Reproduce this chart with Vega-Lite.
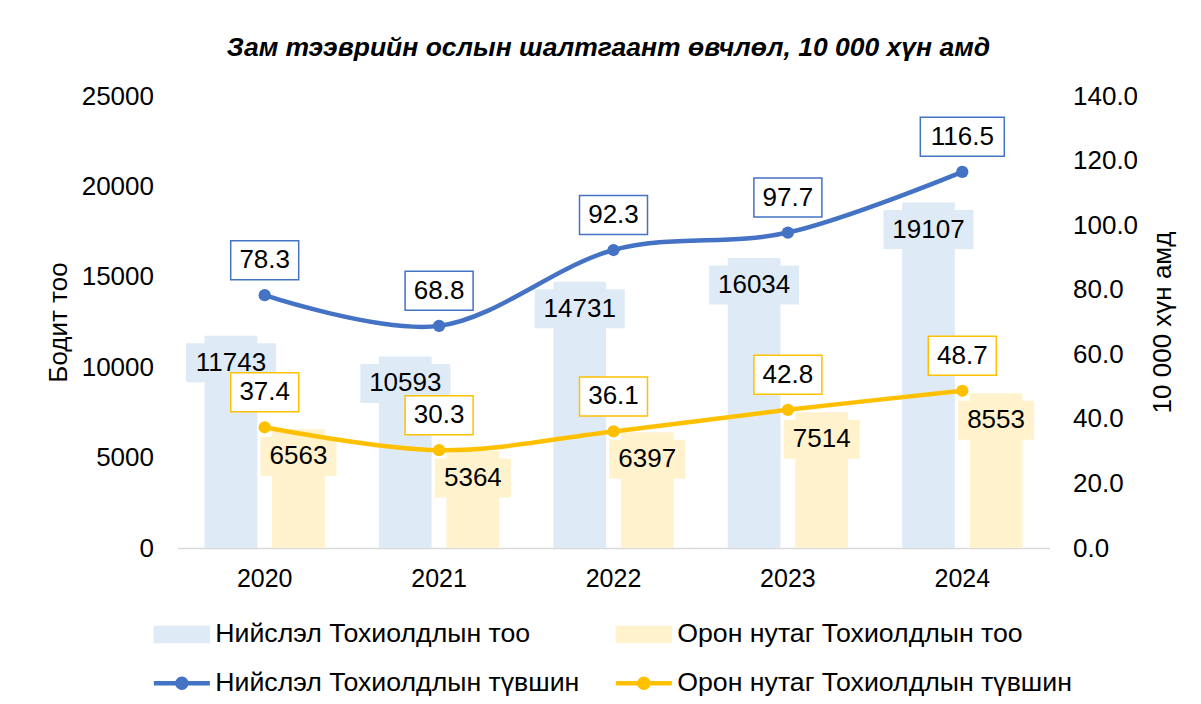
{
  "$schema": "https://vega.github.io/schema/vega-lite/v6.json",
  "width": 872,
  "height": 452,
  "autosize": {"type": "none"},
  "padding": {"left": 177.5, "top": 96, "right": 151.5, "bottom": 156},
  "background": "white",
  "config": {
    "font": "Liberation Sans",
    "view": {"stroke": null},
    "axis": {"labelFont": "Liberation Sans", "labelFontSize": 26, "labelColor": "#000000", "titleFont": "Liberation Sans", "titleFontSize": 26, "titleFontWeight": "normal", "titleColor": "#000000", "grid": false, "ticks": false, "domain": false}
  },
  "title": {"text": "Зам тээврийн ослын шалтгаант өвчлөл, 10 000 хүн амд", "font": "Liberation Sans", "fontSize": 26.5, "fontStyle": "italic", "fontWeight": "bold", "anchor": "middle", "offset": 22, "dx": -5, "color": "#000000"},
  "datasets": {
    "counts": [
      {"year": "2020", "series": "Нийслэл Тохиолдлын тоо", "count": 11743},
      {"year": "2020", "series": "Орон нутаг Тохиолдлын тоо", "count": 6563},
      {"year": "2021", "series": "Нийслэл Тохиолдлын тоо", "count": 10593},
      {"year": "2021", "series": "Орон нутаг Тохиолдлын тоо", "count": 5364},
      {"year": "2022", "series": "Нийслэл Тохиолдлын тоо", "count": 14731},
      {"year": "2022", "series": "Орон нутаг Тохиолдлын тоо", "count": 6397},
      {"year": "2023", "series": "Нийслэл Тохиолдлын тоо", "count": 16034},
      {"year": "2023", "series": "Орон нутаг Тохиолдлын тоо", "count": 7514},
      {"year": "2024", "series": "Нийслэл Тохиолдлын тоо", "count": 19107},
      {"year": "2024", "series": "Орон нутаг Тохиолдлын тоо", "count": 8553}
    ],
    "rates": [
      {"year": "2020", "series": "Нийслэл Тохиолдлын түвшин", "rate": 78.3},
      {"year": "2021", "series": "Нийслэл Тохиолдлын түвшин", "rate": 68.8},
      {"year": "2022", "series": "Нийслэл Тохиолдлын түвшин", "rate": 92.3},
      {"year": "2023", "series": "Нийслэл Тохиолдлын түвшин", "rate": 97.7},
      {"year": "2024", "series": "Нийслэл Тохиолдлын түвшин", "rate": 116.5},
      {"year": "2020", "series": "Орон нутаг Тохиолдлын түвшин", "rate": 37.4},
      {"year": "2021", "series": "Орон нутаг Тохиолдлын түвшин", "rate": 30.3},
      {"year": "2022", "series": "Орон нутаг Тохиолдлын түвшин", "rate": 36.1},
      {"year": "2023", "series": "Орон нутаг Тохиолдлын түвшин", "rate": 42.8},
      {"year": "2024", "series": "Орон нутаг Тохиолдлын түвшин", "rate": 48.7}
    ]
  },
  "encoding": {
    "x": {"field": "year", "type": "ordinal", "scale": {"paddingInner": 0.31, "paddingOuter": 0.155},
      "axis": {"title": null, "labelAngle": 0, "domain": true, "domainColor": "#d9d9d9", "domainWidth": 1.5, "labelPadding": 18, "labelFontSize": 25}}
  },
  "layer": [
    {
      "data": {"name": "counts"},
      "encoding": {
        "y": {"field": "count", "type": "quantitative", "stack": null, "scale": {"domain": [0, 25000]},
          "axis": {"title": "Бодит тоо", "format": "d", "values": [0, 5000, 10000, 15000, 20000, 25000], "labelPadding": 24, "titlePadding": 10}},
        "xOffset": {"field": "series", "type": "nominal", "scale": {"domain": ["Нийслэл Тохиолдлын тоо", "Орон нутаг Тохиолдлын тоо"], "paddingInner": 0.219, "paddingOuter": 0}}
      },
      "layer": [
        {
          "mark": {"type": "bar", "opacity": 1},
          "encoding": {
            "color": {"field": "series", "type": "nominal",
              "scale": {"domain": ["Нийслэл Тохиолдлын тоо", "Орон нутаг Тохиолдлын тоо", "Нийслэл Тохиолдлын түвшин", "Орон нутаг Тохиолдлын түвшин"], "range": ["#deebf7", "#fff2cc", "#4472c4", "#ffc000"]},
              "legend": {"title": null, "orient": "none", "direction": "horizontal", "legendX": -9, "legendY": 525, "columns": 2, "symbolSize": 4,
                "symbolType": {"expr": "indexof(datum.value, 'түвшин') >= 0 ? 'M-28,0H28M-4.5,0A4.5,4.5 0 1 1 4.5,0A4.5,4.5 0 1 1 -4.5,0Z' : 'M-26,-6.5H26V6.5H-26Z'"},
                "symbolStrokeColor": {"expr": "indexof(datum.value, 'түвшин') >= 0 ? scale('color', datum.value) : 'transparent'"},
                "symbolStrokeWidth": 4.5, "symbolOpacity": 1,
                "labelFontSize": 26.7, "labelFont": "Liberation Sans", "labelColor": "#000000", "labelOffset": 20, "columnPadding": 27, "rowPadding": 19, "labelLimit": 0}
            }
          }
        },
        {
          "mark": {"type": "point", "filled": true, "size": 4, "opacity": 1, "strokeWidth": 0},
          "encoding": {
            "fill": {"field": "series", "type": "nominal", "scale": {"domain": ["Нийслэл Тохиолдлын тоо", "Орон нутаг Тохиолдлын тоо"], "range": ["#deebf7", "#fff2cc"]}, "legend": null},
            "shape": {"condition": {"test": "datum.count >= 10000", "value": "M-45,7.5H45V46.5H-45Z"}, "value": "M-38,7.5H38V46.5H-38Z"}
          }
        },
        {
          "mark": {"type": "text", "dy": 27, "baseline": "middle", "align": "center", "fontSize": 26, "color": "#000000"},
          "encoding": {"text": {"field": "count", "type": "quantitative", "format": "d"}}
        }
      ]
    },
    {
      "data": {"name": "rates"},
      "encoding": {
        "y": {"field": "rate", "type": "quantitative", "scale": {"domain": [0, 140]},
          "axis": {"orient": "right", "title": "10 000 хүн амд", "format": ".1f", "values": [0, 20, 40, 60, 80, 100, 120, 140], "labelPadding": 23, "titlePadding": 12, "titleAngle": 270, "titleBaseline": "top"}}
      },
      "layer": [
        {
          "mark": {"type": "line", "interpolate": "cardinal", "strokeWidth": 4.5, "strokeCap": "round"},
          "encoding": {"color": {"field": "series", "type": "nominal", "legend": null}}
        },
        {
          "mark": {"type": "point", "filled": true, "size": 150, "opacity": 1},
          "encoding": {"color": {"field": "series", "type": "nominal", "legend": null}}
        },
        {
          "mark": {"type": "point", "filled": true, "size": 4, "opacity": 1, "fill": "white", "strokeWidth": 1.5},
          "encoding": {
            "stroke": {"field": "series", "type": "nominal", "scale": {"domain": ["Нийслэл Тохиолдлын түвшин", "Орон нутаг Тохиолдлын түвшин"], "range": ["#4472c4", "#ffc000"]}, "legend": null},
            "shape": {"condition": {"test": "datum.rate >= 100", "value": "M-42,-54.5H42V-15.5H-42Z"}, "value": "M-34,-54.5H34V-15.5H-34Z"}
          }
        },
        {
          "mark": {"type": "text", "dy": -35, "baseline": "middle", "align": "center", "fontSize": 26, "color": "#000000"},
          "encoding": {"text": {"field": "rate", "type": "quantitative", "format": ".1f"}}
        }
      ]
    }
  ],
  "resolve": {"scale": {"y": "independent"}}
}
